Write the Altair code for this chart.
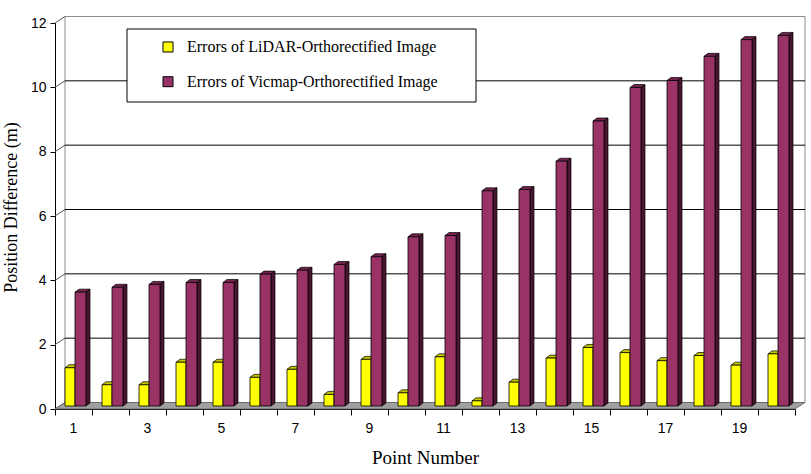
import altair as alt
import pandas as pd

# ---- data -------------------------------------------------------------
points = list(range(1, 21))
lidar_err = [1.19, 0.66, 0.66, 1.36, 1.36, 0.89, 1.14, 0.36, 1.45, 0.41,
             1.53, 0.16, 0.74, 1.49, 1.82, 1.66, 1.41, 1.57, 1.27, 1.62]
vicmap_err = [3.54, 3.69, 3.78, 3.84, 3.84, 4.10, 4.22, 4.40, 4.64, 5.26,
              5.30, 6.69, 6.73, 7.61, 8.86, 9.90, 10.12, 10.87, 11.39, 11.52]
series_names = ["Errors of LiDAR-Orthorectified Image",
                "Errors of Vicmap-Orthorectified Image"]
y_ticks = [0, 2, 4, 6, 8, 10, 12]
x_tick_labels = [1, 3, 5, 7, 9, 11, 13, 15, 17, 19]

# ---- styling / geometry ------------------------------------------------
W, H = 740, 386
XMAX, YMAX = 20, 12
UX, UY = XMAX / W, YMAX / H          # data units per pixel

WALL_DX, WALL_DY = 10, 6.5           # depth of the back wall (px)
BAR_DX, BAR_DY = 4, 3                # depth of each column (px)
BASE = 3                             # columns stand slightly behind the front edge (px)

front_col = ["#FFFF00", "#993366"]
side_col = ["#8a8a00", "#4a1530"]
cap_col = ["#c4c400", "#74244c"]
bar_px = [(-8.5, 1.5), (1.5, 12.5)]  # left/right of each series around the category centre

SERIF = "Liberation Serif"
SANS = "Liberation Sans"

xs = alt.Scale(domain=[0, XMAX], nice=False, zero=False)
ys = alt.Scale(domain=[0, YMAX], nice=False, zero=False)
x_axis = alt.Axis(values=list(range(0, XMAX + 1)), labels=False, grid=False,
                  tickSize=6, tickColor="black", domainColor="black",
                  title="Point Number", titleFont=SERIF, titleFontSize=19,
                  titleFontWeight="normal", titleColor="black", titlePadding=33)
y_axis = alt.Axis(values=y_ticks, grid=False, tickSize=5, tickColor="black",
                  domainColor="black", labelFont=SANS, labelFontSize=14,
                  labelColor="black", labelPadding=4,
                  title="Position Difference (m)", titleFont=SERIF,
                  titleFontSize=18, titleFontWeight="normal", titleColor="black",
                  titleX=-44, titleY=184, titleAlign="center",
                  titleBaseline="middle", titleAngle=-90)


def X(f):
    return alt.X(f, type="quantitative", scale=xs, axis=x_axis)


def Y(f):
    return alt.Y(f, type="quantitative", scale=ys, axis=y_axis)


# ---- derived tables for the pseudo-3D columns ----------------------------
fronts, sides, caps = [], [], []
for si, vals in enumerate([lidar_err, vicmap_err]):
    lpx, rpx = bar_px[si]
    f_rows, s_rows, c_rows = [], [], []
    for p, v in zip(points, vals):
        c = p - 0.5
        xl, xr = c + lpx * UX, c + rpx * UX
        y0 = BASE * UY
        yt = y0 + v
        f_rows.append(dict(series=series_names[si], point=p, xl=xl, xr=xr, y0=y0, yt=yt))
        s_rows += [dict(point=p, x=xr, top=yt, bot=y0),
                   dict(point=p, x=xr + BAR_DX * UX, top=yt + BAR_DY * UY, bot=y0 + BAR_DY * UY)]
        c_rows += [dict(point=p, y=yt, xa=xl, xb=xr),
                   dict(point=p, y=yt + BAR_DY * UY, xa=xl + BAR_DX * UX, xb=xr + BAR_DX * UX)]
    fronts.append(pd.DataFrame(f_rows))
    sides.append(pd.DataFrame(s_rows))
    caps.append(pd.DataFrame(c_rows))

wx, wy = WALL_DX * UX, WALL_DY * UY

wall_df = pd.DataFrame([dict(x=wx, x2=XMAX + wx, y=wy, y2=YMAX + wy)])
floor_df = pd.DataFrame([dict(y=0, xa=0, xb=XMAX), dict(y=wy, xa=wx, xb=XMAX + wx)])
grid_df = pd.DataFrame([dict(x=wx, x2=XMAX + wx, y=v + wy) for v in y_ticks[1:-1]])
diag_df = pd.DataFrame([dict(x=0, x2=wx, y=v, y2=v + wy) for v in y_ticks])
lab_df = pd.DataFrame([dict(c=p - 0.5, lab=str(p)) for p in x_tick_labels])
one = pd.DataFrame([dict(k=0)])

color_scale = alt.Scale(domain=series_names, range=front_col)

layers = []
# back wall
layers.append(alt.Chart(wall_df).mark_rect(fill="white", stroke="#8c8c8c", strokeWidth=1)
              .encode(x=X("x"), x2="x2", y=Y("y"), y2="y2"))
# left wall diagonals
layers.append(alt.Chart(diag_df).mark_rule(color="#555555", strokeWidth=1)
              .encode(x=X("x"), x2="x2", y=Y("y"), y2="y2"))
# gridlines on the back wall
layers.append(alt.Chart(grid_df).mark_rule(color="black", strokeWidth=1)
              .encode(x=X("x"), x2="x2", y=Y("y")))
# floor
layers.append(alt.Chart(floor_df).mark_area(orient="horizontal", fill="#a0a0a0",
                                            stroke="#606060", strokeWidth=0.8)
              .encode(y=Y("y"), x=X("xa"), x2="xb"))

# legend box (drawn over the gridlines, under the columns)
layers.append(alt.Chart(one).mark_rect(fill="white", stroke="black", strokeWidth=1)
              .encode(x=alt.value(72), x2=alt.value(421), y=alt.value(6), y2=alt.value(79)))
for si, ypix in enumerate([24, 58.7]):
    layers.append(alt.Chart(one).mark_square(size=100, stroke="black", strokeWidth=1,
                                             fill=front_col[si], opacity=1)
                  .encode(x=alt.value(113), y=alt.value(ypix)))
    layers.append(alt.Chart(one).mark_text(align="left", baseline="middle", font=SERIF,
                                           fontSize=16, color="black")
                  .encode(x=alt.value(132), y=alt.value(ypix), text=alt.value(series_names[si])))

# columns: caps and sides first, then fronts, series by series
for si in range(2):
    layers.append(alt.Chart(caps[si]).mark_area(orient="horizontal", fill=cap_col[si],
                                                stroke="black", strokeWidth=0.7)
                  .encode(y=Y("y"), x=X("xa"), x2="xb", detail="point:N"))
    layers.append(alt.Chart(sides[si]).mark_area(fill=side_col[si], stroke="black",
                                                 strokeWidth=0.7)
                  .encode(x=X("x"), y=Y("top"), y2="bot", detail="point:N"))
    layers.append(alt.Chart(fronts[si]).mark_rect(stroke="black", strokeWidth=0.8)
                  .encode(x=X("xl"), x2="xr", y=Y("y0"), y2="yt",
                          fill=alt.Fill("series:N", scale=color_scale, legend=None)))

# category labels under every other column
layers.append(alt.Chart(lab_df).mark_text(font=SANS, fontSize=14, color="black",
                                          baseline="middle")
              .encode(x=X("c"), y=alt.value(405.5), text="lab:N"))

chart = alt.layer(*layers).properties(
    width=W, height=H,
    autosize=alt.AutoSizeParams(type="none"),
    padding={"left": 55, "top": 23, "right": 16, "bottom": 65},
    background="white",
).configure_view(stroke=None)

chart.save("out.html", embed_options={"renderer": "svg", "actions": False})
